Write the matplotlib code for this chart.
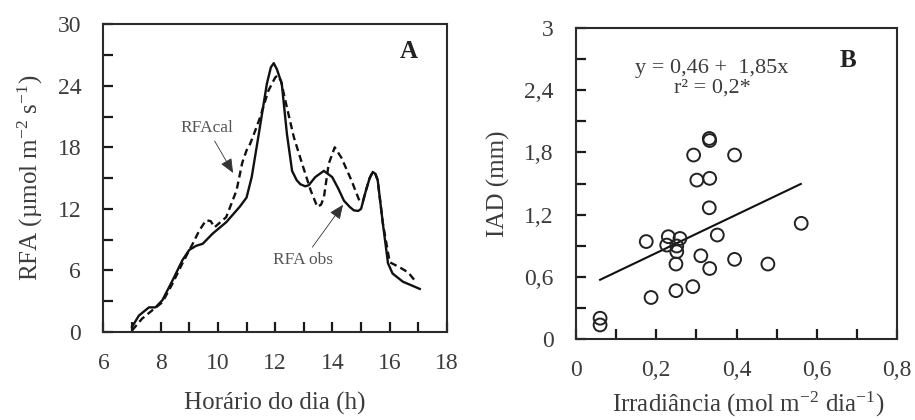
import matplotlib
matplotlib.use('Agg')
import matplotlib.pyplot as plt
from matplotlib.ticker import FixedLocator, MultipleLocator
import numpy as np

plt.rcParams['font.family'] = ['Liberation Serif', 'DejaVu Serif']
plt.rcParams['mathtext.fontset'] = 'custom'
plt.rcParams['mathtext.rm'] = 'Liberation Serif'
plt.rcParams['mathtext.it'] = 'Liberation Serif:italic'

TEXT = '#3c3c3c'

# panel A: photosynthetically active radiation over the day
hour_obs = [7.0, 7.24, 7.59, 7.82, 8.06, 8.41, 8.76, 9.0, 9.24, 9.47, 9.82,
            10.29, 10.76, 11.0, 11.18, 11.41, 11.71, 11.85, 11.95, 12.06,
            12.23, 12.41, 12.59, 12.75, 12.88, 13.05, 13.17, 13.4, 13.7,
            13.99, 14.2, 14.4, 14.6, 14.75, 14.9, 15.0, 15.17, 15.3, 15.41,
            15.5, 15.58, 15.76, 15.94, 16.1, 16.46, 16.8, 17.05]
rfa_obs = [0.5, 1.6, 2.4, 2.4, 3.1, 5.0, 7.0, 8.0, 8.4, 8.6, 9.6,
           10.7, 12.2, 13.1, 15.1, 19.0, 24.2, 25.8, 26.2, 25.6,
           24.2, 19.3, 15.7, 14.8, 14.4, 14.2, 14.3, 15.1, 15.7,
           15.1, 14.0, 12.8, 12.2, 11.85, 11.8, 12.0, 13.8, 15.0, 15.6,
           15.4, 14.8, 10.6, 6.7, 5.7, 4.9, 4.5, 4.2]

hour_cal = [7.0, 7.35, 7.7, 8.06, 8.41, 8.76, 9.12, 9.35, 9.59, 9.75, 9.88,
            10.29, 10.65, 10.85, 11.0, 11.12, 11.3, 11.47, 11.76, 12.0,
            12.08, 12.2, 12.35, 12.65, 12.94, 13.24, 13.47, 13.6, 13.7,
            13.87, 14.08, 14.31, 14.66, 14.94, 15.06, 15.17, 15.3, 15.41,
            15.5, 15.58, 15.76, 16.0, 16.35, 16.65, 16.88]
rfa_cal = [0.15, 1.3, 2.1, 2.9, 4.7, 6.7, 8.6, 9.9, 10.9, 10.8, 10.2,
           11.2, 13.8, 16.5, 17.7, 18.3, 19.6, 20.9, 23.5, 24.8,
           25.0, 24.5, 22.6, 19.0, 16.4, 13.8, 12.2, 12.4, 13.1,
           16.4, 18.0, 17.0, 14.8, 12.8, 12.7, 13.8, 15.0, 15.6,
           15.4, 14.8, 10.6, 6.8, 6.3, 5.8, 5.0]

# panel B: leaf area increment vs irradiance
irrad = [0.06, 0.06, 0.187, 0.175, 0.226, 0.230, 0.251, 0.251, 0.259,
         0.249, 0.249, 0.291, 0.293, 0.301, 0.311, 0.332, 0.333, 0.333,
         0.332, 0.333, 0.352, 0.395, 0.395, 0.478, 0.561]
iad = [0.20, 0.135, 0.40, 0.94, 0.906, 0.987, 0.897, 0.842, 0.97,
       0.723, 0.466, 0.505, 1.775, 1.533, 0.803, 1.935, 1.915, 1.55,
       1.266, 0.68, 1.003, 1.775, 0.768, 0.723, 1.116]
fit_a, fit_b = 0.46, 1.85
fit_range = [0.06, 0.56]

a_xticks = [6, 8, 10, 12, 14, 16, 18]
a_yticks = [0, 6, 12, 18, 24, 30]
b_xticks = [0, 0.2, 0.4, 0.6, 0.8]
b_xlabels = ['0', '0,2', '0,4', '0,6', '0,8']
b_yticks = [0, 0.6, 1.2, 1.8, 2.4, 3.0]
b_ylabels = ['0', '0,6', '1,2', '1,8', '2,4', '3']


def style_axes(ax):
    for sp in ax.spines.values():
        sp.set_linewidth(1.5)
        sp.set_color('#2a2a2a')
    ax.tick_params(which='both', direction='in', length=7, width=1.6,
                   color='#1a1a1a', top=False, right=False)
    ax.tick_params(axis='x', which='both', pad=15, labelsize=17,
                   labelcolor=TEXT)
    ax.tick_params(axis='y', which='both', pad=16, labelsize=17,
                   labelcolor=TEXT)


fig = plt.figure(figsize=(9.15, 4.2), dpi=100)
ax_a = fig.add_axes([0.113, 0.2095, 0.3755, 0.733])
ax_b = fig.add_axes([0.6295, 0.193, 0.351, 0.740])

# --- panel A
ax_a.plot(hour_obs, rfa_obs, color='#111111', lw=1.7)
ax_a.plot(hour_cal, rfa_cal, color='#111111', lw=1.7, dashes=(3, 1.8))
ax_a.set_xlim(6, 18)
ax_a.set_ylim(0, 30)
ax_a.set_xticks(a_xticks)
ax_a.set_yticks(a_yticks)
ax_a.xaxis.set_minor_locator(MultipleLocator(1))
ax_a.yaxis.set_minor_locator(MultipleLocator(3))
style_axes(ax_a)
ax_a.set_xlabel('Horário do dia (h)', fontsize=18, color=TEXT, labelpad=13)
ax_a.set_ylabel(r'RFA (µmol m$^{\mathrm{-2}}$ s$^{\mathrm{-1}}$)',
                fontsize=18, color=TEXT, labelpad=9)
ax_a.text(16.65, 27.3, 'A', fontsize=18, fontweight='bold', color='#222222',
          ha='center', va='center')
arrow = dict(arrowstyle='-|>,head_length=0.7,head_width=0.3', color='#333333',
             lw=0.6, shrinkA=2, shrinkB=0)
ax_a.annotate('RFAcal', xy=(10.53, 15.5), xytext=(9.62, 19.9),
              fontsize=12.5, color='#555555', ha='center', va='center',
              arrowprops=arrow)
ax_a.annotate('RFA obs', xy=(14.37, 12.4), xytext=(12.97, 7.0),
              fontsize=12.5, color='#555555', ha='center', va='center',
              arrowprops=arrow)

# --- panel B
ax_b.scatter(irrad, iad, s=85, facecolors='none', edgecolors='#222222',
             linewidths=1.4, zorder=3)
fx = np.array(fit_range)
ax_b.plot(fx, fit_a + fit_b * fx, color='#111111', lw=1.5)
ax_b.set_xlim(0, 0.8)
ax_b.set_ylim(0, 3)
ax_b.xaxis.set_major_locator(FixedLocator(b_xticks))
ax_b.yaxis.set_major_locator(FixedLocator(b_yticks))
ax_b.set_xticklabels(b_xlabels)
ax_b.set_yticklabels(b_ylabels)
ax_b.xaxis.set_minor_locator(MultipleLocator(0.1))
ax_b.yaxis.set_minor_locator(MultipleLocator(0.3))
style_axes(ax_b)
ax_b.set_xlabel(r'Irradiância (mol m$^{\mathrm{-2}}$ dia$^{\mathrm{-1}}$)',
                fontsize=18, color=TEXT)
ax_b.xaxis.set_label_coords(0.536, -0.165)
ax_b.set_ylabel('IAD (mm)', fontsize=18, color=TEXT, labelpad=10)
ax_b.text(0.339, 2.61, 'y = 0,46 +  1,85x', fontsize=16, color=TEXT,
          ha='center', va='center')
ax_b.text(0.339, 2.42, 'r² = 0,2*', fontsize=16, color=TEXT,
          ha='center', va='center')
ax_b.text(0.678, 2.69, 'B', fontsize=18, fontweight='bold', color='#222222',
          ha='center', va='center')

fig.savefig('out.png', dpi=100)
plt.close(fig)
